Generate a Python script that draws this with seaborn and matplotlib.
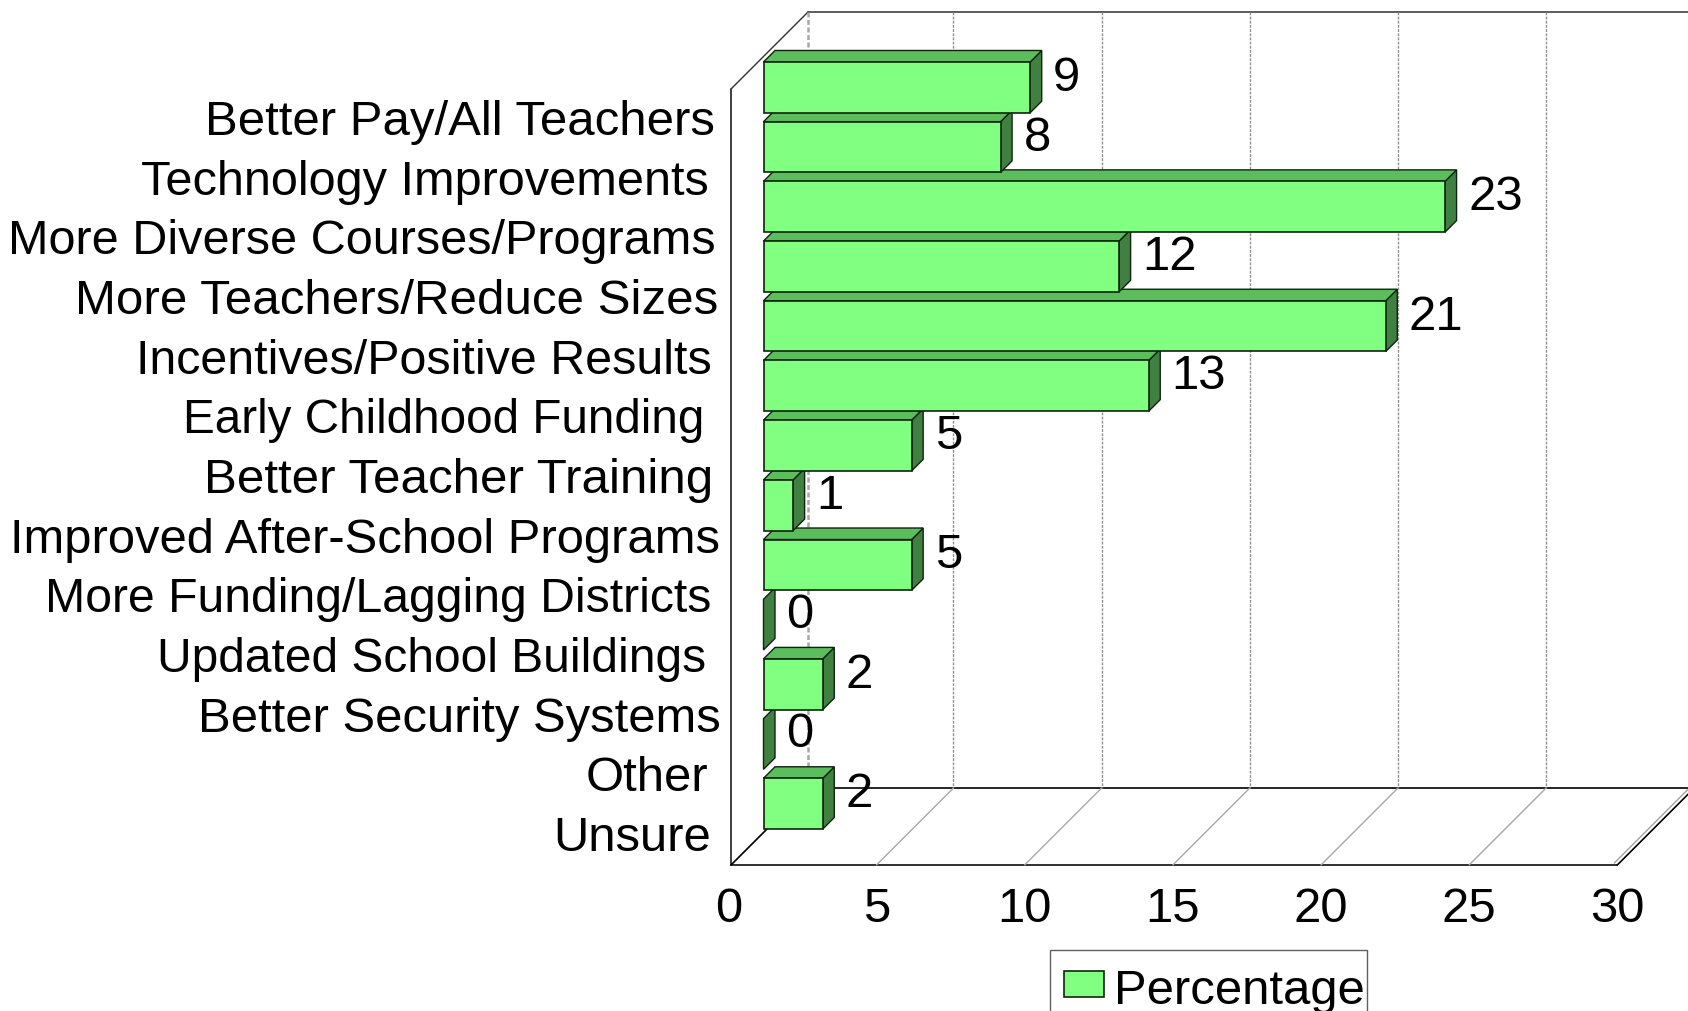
import pandas as pd
import seaborn as sns
import matplotlib.pyplot as plt
from matplotlib.patches import Polygon, Rectangle
from matplotlib.lines import Line2D
from matplotlib.transforms import Affine2D, IdentityTransform

# Data
categories = ["Better Pay/All Teachers", "Technology Improvements", "More Diverse Courses/Programs",
              "More Teachers/Reduce Sizes", "Incentives/Positive Results", "Early Childhood Funding",
              "Better Teacher Training", "Improved After-School Programs", "More Funding/Lagging Districts",
              "Updated School Buildings", "Better Security Systems", "Other", "Unsure"]
percentages = [9, 8, 23, 12, 21, 13, 5, 1, 5, 0, 2, 0, 2]
x_ticks = [0, 5, 10, 15, 20, 25, 30]

# Uneven right edges and text sizes of the category labels
label_gaps = [13, 19, 12, 10, 16, 24, 15, 8, 17, 22, 7, 20, 17]
label_sizes = [35.4, 35.0, 35.0, 35.5, 34.8, 34.3, 35.5, 35.3, 34.7, 34.5, 35.3, 35.3, 35.3]

FRONT = '#80FF80'
TOP = '#5CBD5C'
SIDE = '#408040'
EDGE = '#0F240F'
WALL_DEPTH = 77     # full depth of the 3d box
WALL_X = 2.7        # left wall sits a little right of the zero of the scale
BAR_OFFSET = 32.5   # where the bars stand inside the box
BAR_DEPTH = 11.5
FONT = 35.3
W, H = 1688, 1012

sns.set_style("white")
plt.rcParams['font.family'] = ['Liberation Sans', 'DejaVu Sans']
plt.rcParams['xtick.color'] = 'black'
plt.rcParams['text.color'] = 'black'

fig = plt.figure(figsize=(W / 100, H / 100), dpi=100)
ax = fig.add_axes([728.3 / W, (H - 866) / H, 889 / W, 776 / H])

df = pd.DataFrame({'category': categories, 'percentage': percentages})
sns.barplot(data=df, x='percentage', y='category', ax=ax, orient='h', color=FRONT, saturation=1,
            width=0.85, edgecolor=EDGE, linewidth=1.2, label='Percentage')

ax.set_xlim(0, 30)
ax.set_ylim(12.5, -0.5)
ax.set_xlabel('')
ax.set_ylabel('')
ax.set_xticks(x_ticks)
ax.set_yticks([])
ax.tick_params(axis='x', length=0, pad=15, labelsize=FONT, labelcolor='black')
ax.patch.set_visible(False)
for side in ax.spines:
    ax.spines[side].set_visible(False)


def to_px(x, y, depth=0, dx=0):
    px, py = ax.transData.transform((x, y))
    return px + depth + dx, py + depth


def line(p0, p1, color='black', lw=1.0, ls='-', zorder=1):
    ax.add_line(Line2D([p0[0], p1[0]], [p0[1], p1[1]], transform=IdentityTransform(), color=color,
                       lw=lw, ls=ls, clip_on=False, zorder=zorder))


y_top, y_bot = -0.5, 12.5
x_max = x_ticks[-1]

# front edges of the box
line(to_px(0, y_top, dx=WALL_X), to_px(0, y_bot, dx=WALL_X), color='#303030', lw=1.3)
line(to_px(0, y_bot, dx=WALL_X), to_px(x_max, y_bot), color='#303030', lw=1.4)

# back wall and floor
line(to_px(0, y_top, WALL_DEPTH, WALL_X), to_px(x_max, y_top, WALL_DEPTH), color='#303030', lw=1.1)
line(to_px(0, y_bot, WALL_DEPTH, WALL_X), to_px(x_max, y_bot, WALL_DEPTH), lw=1.2)
line(to_px(0, y_top, dx=WALL_X), to_px(0, y_top, WALL_DEPTH, WALL_X), color='#303030', lw=1.0)
line(to_px(0, y_bot, dx=WALL_X), to_px(0, y_bot, WALL_DEPTH, WALL_X), lw=1.2)
line(to_px(x_max, y_bot), to_px(x_max, y_bot, WALL_DEPTH), lw=1.2)
px, py = to_px(x_max, y_bot)
line((px - 3, py + 2), (px - 3 + WALL_DEPTH, py + 2 + WALL_DEPTH), color='#a0a0a0', lw=1.0)
line(to_px(0, y_top, WALL_DEPTH, WALL_X), to_px(0, y_bot, WALL_DEPTH, WALL_X), color='#a8a8a8', lw=1.8, ls=(0, (2, 1)))
for tick in x_ticks[1:-1]:
    line(to_px(tick, y_top, WALL_DEPTH), to_px(tick, y_bot, WALL_DEPTH), color='#909090', lw=1.0, ls=(0, (2, 1)))
    line(to_px(tick, y_bot), to_px(tick, y_bot, WALL_DEPTH), color='#a8a8a8', lw=1.0)

# 3d faces for each bar, lower bars go behind upper ones
bars = list(ax.containers[0])
for i, bar in enumerate(bars):
    z = 50 - i
    bar.set_transform(ax.transData + Affine2D().translate(BAR_OFFSET + WALL_X, BAR_OFFSET - 1))
    bar.set_clip_on(False)
    bar.set_zorder(z + 0.5)
    x1 = bar.get_width()
    y0, y1 = bar.get_y(), bar.get_y() + bar.get_height()
    d0, d1 = BAR_OFFSET - 1, BAR_OFFSET - 1 + BAR_DEPTH
    dx = WALL_X + 1
    side_face = [to_px(x1, y0, d0, dx), to_px(x1, y0, d1, dx), to_px(x1, y1, d1, dx), to_px(x1, y1, d0, dx)]
    ax.add_patch(Polygon(side_face, closed=True, transform=IdentityTransform(), facecolor=SIDE,
                         edgecolor=EDGE, lw=1.0, clip_on=False, zorder=z))
    if x1 > 0:
        top_face = [to_px(0, y0, d0, dx), to_px(0, y0, d1, dx), to_px(x1, y0, d1, dx), to_px(x1, y0, d0, dx)]
        ax.add_patch(Polygon(top_face, closed=True, transform=IdentityTransform(), facecolor=TOP,
                             edgecolor=EDGE, lw=1.0, clip_on=False, zorder=z))
    else:
        bar.set_visible(False)
    ax.annotate(str(percentages[i]), xy=(x1, i), xytext=(BAR_OFFSET + WALL_X + 23, BAR_OFFSET + 9),
                textcoords='offset pixels', ha='left', va='center', fontsize=FONT, color='black',
                annotation_clip=False, zorder=100)

# category labels
for i, label in enumerate(categories):
    ax.annotate(label, xy=(0, i), xytext=(WALL_X - label_gaps[i] - 3, -15), textcoords='offset pixels',
                ha='right', va='baseline', fontsize=label_sizes[i], color='black', annotation_clip=False)

# legend box runs off the bottom of the picture, so its frame is drawn apart
ax.add_patch(Rectangle((1050, -20), 317, H - 951 + 20, transform=IdentityTransform(), facecolor='white',
                       edgecolor='#606060', lw=1.0, clip_on=False, zorder=110))
handles, labels = ax.get_legend_handles_labels()
leg = ax.legend(handles, labels, loc='upper left', bbox_to_anchor=(1050 / W, 1 - 955 / H),
                bbox_transform=fig.transFigure, fontsize=FONT, frameon=False,
                borderaxespad=0, borderpad=0.29, handlelength=0.82, handleheight=0.44,
                handletextpad=0.2)
leg.get_patches()[0].set_y(leg.get_patches()[0].get_y() + 1.5)
leg.set_zorder(120)

fig.savefig('out.png', dpi=100)
